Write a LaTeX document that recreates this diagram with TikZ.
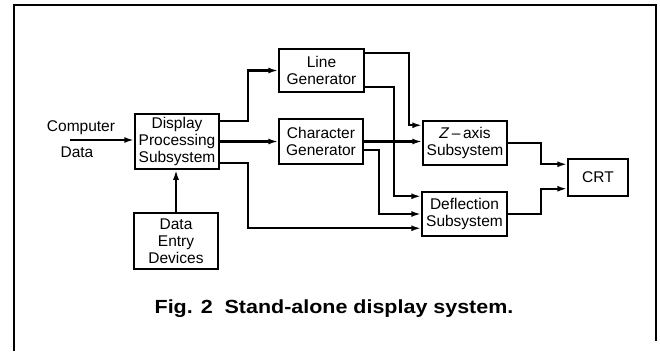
\documentclass[tikz,border=0pt]{standalone}
\usepackage{fontspec}
\setmainfont{Liberation Sans}
\usetikzlibrary{arrows.meta}
\begin{document}
\begin{tikzpicture}[x=1pt,y=-1pt,
  blk/.style={draw,line width=1.5pt,rectangle,inner sep=0pt,align=center,
    font=\fontsize{15.5}{17}\selectfont},
  arr/.style={line width=2.3pt,-{Latex[length=10pt,width=6pt]}},
  lbl/.style={inner sep=0pt,font=\fontsize{15.5}{17}\selectfont}]
\useasboundingbox (0,0) rectangle (660,351);
\draw[line width=2.2pt] (14,351) -- (14,5) -- (656,5) -- (656,341);
\node[blk,minimum width=84pt,minimum height=55pt] (dps) at (177,141.5) {Display\\Processing\\Subsystem};
\node[blk,minimum width=85pt,minimum height=43pt] (lg) at (321.5,70.5) {Line\\Generator};
\node[blk,minimum width=84pt,minimum height=45pt] (cg) at (321,141.5) {Character\\Generator};
\node[blk,minimum width=84pt,minimum height=44pt] (z) at (465,143) {\textit{Z}\,--\,axis\\Subsystem};
\node[blk,minimum width=60pt,minimum height=37pt] (crt) at (598,177.5) {CRT};
\node[blk,minimum width=85pt,minimum height=44pt] (def) at (464.5,214) {Deflection\\Subsystem};
\node[blk,minimum width=84pt,minimum height=56pt] (ded) at (176,241) {Data\\Entry\\Devices};
\node[lbl] (cmp) at (81,128) {Computer};
\node[lbl] (dat) at (77,152) {Data};
\coordinate (cin) at (70,140);
\draw[arr] (cin) -- (cin -| dps.west);
\draw[arr] ([yshift=-8pt]dps.north east) -- ++(28,0) |- (lg.west);
\draw[arr] (dps.east) -- (cg.west);
\draw[arr] ([yshift=7pt]dps.south east) -- ++(28,0) |- ([yshift=8.5pt]def.south west);
\draw[arr] (ded.north) -- (dps.south -| ded.north);
\draw[arr] ([yshift=-5pt]lg.north east) -- ++(44,0) |- ([yshift=-5pt]z.north west);
\draw[arr] ([yshift=6pt]lg.south east) -- ++(29,0) |- ([yshift=-5pt]def.north west);
\draw[arr] (cg.east) -- (cg.east -| z.west);
\draw[arr] ([yshift=15pt]cg.south east) -- ++(15,0) |- (def.west);
\draw[arr] (z.east) -- ++(33,0) |- ([yshift=-6pt]crt.north west);
\draw[arr] (def.east) -- ++(33,0) |- ([yshift=8pt]crt.south west);
\node[anchor=base,inner sep=0pt,font=\bfseries\fontsize{19}{21}\selectfont] (cap) at (334,313) {\scalebox{1.13}[1]{Fig. 2\ \ Stand-alone display system.}};
\end{tikzpicture}
\end{document}
